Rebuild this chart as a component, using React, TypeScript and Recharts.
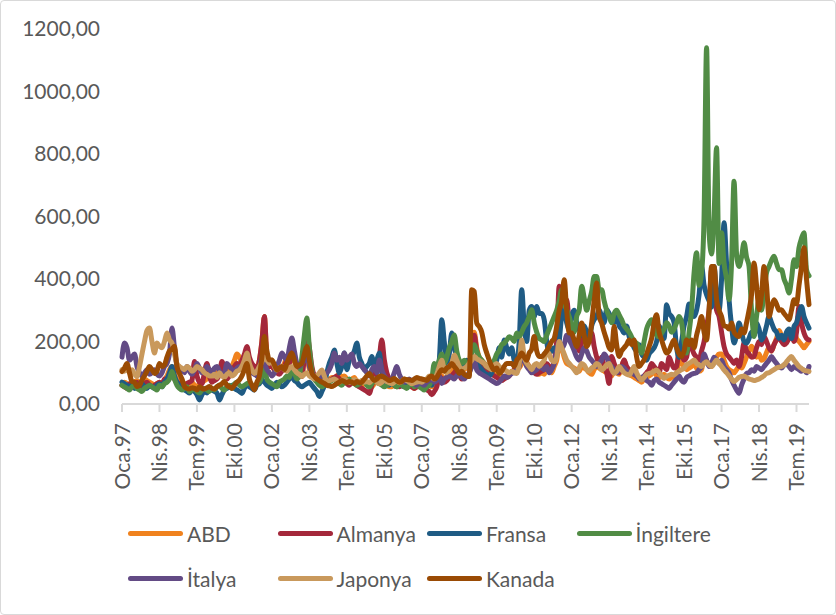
import { Line, LineChart, XAxis, YAxis } from "recharts";

const monthNames = ["Oca", "Şub", "Mar", "Nis", "May", "Haz", "Tem", "Ağu", "Eyl", "Eki", "Kas", "Ara"];
const years = [97, 98, 99, 0, 1, 2, 3, 4, 5, 6, 7, 8, 9, 10, 11, 12, 13, 14, 15, 16, 17, 18, 19];
const categories = years.flatMap((y) => monthNames.map((m) => `${m}.${String(y).padStart(2, "0")}`));

const yTicks = [0, 200, 400, 600, 800, 1000, 1200];

// one row per year, Jan..Dec, 1997-2019
const abd = [
  60, 70, 65, 55, 60, 70, 75, 65, 70, 80, 75, 70,
  65, 60, 65, 70, 60, 75, 90, 110, 120, 95, 80, 75,
  70, 65, 60, 65, 70, 60, 55, 65, 70, 75, 80, 85,
  90, 100, 95, 110, 105, 95, 100, 110, 120, 140, 160, 150,
  130, 120, 140, 125, 110, 120, 115, 140, 200, 280, 150, 130,
  120, 110, 100, 105, 115, 130, 150, 140, 160, 135, 120, 110,
  125, 140, 150, 110, 95, 90, 85, 80, 75, 70, 75, 80,
  85, 80, 90, 95, 85, 90, 80, 75, 80, 85, 70, 65,
  60, 65, 70, 60, 55, 65, 70, 75, 80, 65, 60, 55,
  55, 60, 55, 60, 65, 70, 75, 60, 55, 50, 55, 60,
  55, 60, 65, 60, 55, 60, 70, 95, 90, 80, 85, 100,
  110, 120, 140, 130, 115, 110, 120, 125, 200, 230, 180, 150,
  140, 130, 125, 120, 110, 105, 100, 95, 90, 85, 90, 95,
  100, 105, 110, 115, 130, 150, 135, 120, 115, 105, 100, 95,
  100, 95, 110, 105, 100, 120, 140, 190, 180, 150, 130, 125,
  120, 115, 110, 105, 120, 115, 110, 100, 95, 110, 120, 115,
  110, 105, 100, 95, 90, 110, 100, 95, 120, 140, 105, 95,
  90, 85, 80, 75, 70, 80, 85, 90, 95, 110, 90, 85,
  90, 95, 85, 80, 85, 90, 95, 140, 130, 120, 110, 115,
  120, 130, 115, 105, 110, 150, 140, 125, 120, 135, 150, 160,
  160, 140, 120, 110, 105, 100, 110, 120, 115, 130, 150, 170,
  185, 170, 150, 160, 140, 145, 165, 180, 170, 190, 210, 235,
  220, 210, 200, 215, 225, 230, 210, 200, 190, 180, 190, 200,
];

const almanya = [
  60, 55, 50, 65, 60, 55, 70, 60, 55, 65, 70, 60,
  55, 60, 65, 70, 60, 80, 75, 90, 110, 80, 70, 65,
  60, 55, 65, 70, 75, 136, 90, 70, 65, 100, 130, 90,
  70, 75, 80, 95, 136, 110, 80, 90, 100, 120, 130, 125,
  140, 160, 184, 150, 130, 120, 110, 140, 200, 280, 150, 120,
  120, 110, 100, 95, 105, 120, 140, 130, 170, 150, 120, 100,
  88, 150, 227, 180, 120, 90, 80, 70, 60, 65, 70, 75,
  80, 85, 90, 80, 75, 70, 65, 60, 70, 75, 60, 55,
  50, 45, 40, 34, 60, 90, 110, 150, 205, 141, 100, 80,
  70, 65, 60, 55, 60, 70, 65, 60, 55, 50, 55, 60,
  55, 50, 45, 40, 30, 40, 55, 90, 80, 70, 75, 85,
  90, 100, 110, 95, 80, 85, 90, 95, 180, 220, 170, 140,
  130, 120, 110, 100, 95, 90, 85, 80, 75, 80, 85, 90,
  100, 110, 120, 130, 170, 150, 130, 120, 110, 100, 95, 100,
  105, 110, 130, 120, 115, 140, 200, 377, 320, 300, 334, 260,
  200, 180, 190, 170, 200, 230, 220, 200, 227, 184, 150, 130,
  150, 120, 100, 66, 152, 130, 110, 100, 120, 141, 120, 110,
  100, 95, 90, 85, 80, 90, 100, 110, 130, 120, 110, 100,
  130, 120, 110, 150, 130, 115, 120, 170, 160, 140, 150, 195,
  180, 160, 150, 140, 170, 200, 250, 300, 430, 350, 300, 280,
  230, 184, 160, 150, 140, 130, 141, 120, 150, 195, 170, 160,
  150, 152, 180, 200, 190, 216, 200, 180, 170, 190, 205, 210,
  200, 190, 195, 210, 220, 200, 230, 312, 260, 227, 210, 205,
];

const fransa = [
  70, 65, 60, 55, 60, 50, 55, 60, 65, 55, 50, 60,
  55, 50, 60, 65, 55, 70, 80, 100, 120, 90, 70, 60,
  50, 45, 40, 35, 45, 40, 30, 13, 30, 40, 35, 50,
  45, 40, 35, 13, 30, 45, 50, 55, 60, 50, 45, 40,
  34, 50, 60, 55, 50, 45, 60, 65, 77, 70, 60, 55,
  50, 60, 70, 65, 55, 60, 70, 80, 90, 75, 70, 60,
  55, 60, 65, 70, 60, 50, 40, 24, 40, 60, 100, 130,
  150, 173, 130, 100, 120, 163, 110, 140, 150, 170, 195, 150,
  130, 110, 120, 130, 152, 120, 140, 163, 100, 80, 65, 60,
  70, 60, 55, 65, 60, 55, 70, 75, 65, 60, 80, 70,
  65, 70, 75, 80, 60, 90, 100, 140, 270, 200, 130, 160,
  227, 180, 150, 120, 110, 130, 140, 120, 130, 150, 130, 120,
  110, 100, 95, 90, 100, 120, 140, 180, 150, 205, 180, 160,
  180, 140, 130, 200, 366, 250, 200, 300, 312, 280, 312, 290,
  290, 270, 200, 163, 170, 180, 163, 200, 280, 300, 260, 240,
  280, 300, 260, 240, 220, 250, 230, 210, 250, 270, 280, 302,
  280, 260, 302, 290, 270, 260, 286, 250, 240, 227, 250, 216,
  200, 180, 170, 190, 160, 150, 140, 160, 170, 180, 200, 250,
  230, 210, 318, 290, 280, 260, 180, 150, 200, 250, 280, 320,
  300, 280, 300, 350, 440, 380, 350, 330, 310, 440, 350, 300,
  400, 580, 450, 334, 250, 195, 220, 259, 230, 200, 195, 210,
  230, 220, 259, 240, 205, 220, 250, 280, 260, 240, 230, 210,
  220, 205, 230, 240, 210, 248, 260, 290, 312, 280, 260, 243,
];

const ingiltere = [
  60, 55, 50, 45, 55, 60, 50, 45, 40, 50, 55, 60,
  55, 50, 45, 60, 55, 65, 70, 80, 104, 80, 60, 50,
  45, 50, 55, 40, 45, 50, 40, 35, 45, 50, 45, 40,
  50, 45, 55, 60, 50, 45, 55, 60, 50, 65, 70, 60,
  55, 60, 65, 70, 60, 55, 65, 70, 90, 120, 80, 70,
  65, 60, 55, 70, 75, 80, 90, 85, 110, 100, 80, 90,
  150, 220, 275, 180, 110, 80, 70, 60, 55, 60, 65, 70,
  75, 80, 70, 65, 60, 70, 75, 80, 70, 65, 60, 65,
  70, 75, 60, 55, 65, 80, 70, 65, 60, 55, 60, 65,
  70, 60, 55, 65, 60, 55, 50, 60, 65, 55, 60, 55,
  50, 45, 55, 60, 80, 130, 120, 140, 160, 130, 150, 180,
  200, 221, 170, 140, 130, 140, 130, 125, 160, 190, 170, 150,
  140, 130, 120, 115, 130, 140, 160, 170, 190, 195, 205, 215,
  210, 200, 227, 215, 230, 248, 260, 280, 302, 260, 230, 210,
  205, 200, 220, 240, 260, 280, 300, 330, 366, 320, 302, 280,
  250, 230, 280, 300, 377, 340, 300, 330, 360, 408, 408, 366,
  366, 330, 300, 280, 260, 290, 300, 285, 270, 250, 240, 230,
  215, 200, 195, 180, 163, 200, 240, 260, 270, 240, 220, 215,
  227, 240, 260, 250, 230, 240, 260, 280, 260, 200, 163, 230,
  300, 420, 484, 380, 420, 600, 1140, 550, 480, 600, 820, 450,
  548, 450, 400, 334, 450, 713, 480, 440, 470, 516, 470, 440,
  300, 216, 280, 334, 300, 360, 420, 440, 460, 473, 450, 430,
  430, 400, 380, 355, 400, 462, 440, 500, 530, 548, 430, 410,
];

const italya = [
  150, 195, 180, 140, 150, 160, 120, 100, 90, 100, 110, 95,
  100, 110, 95, 90, 100, 120, 130, 160, 243, 180, 120, 100,
  110, 100, 120, 105, 95, 110, 130, 115, 100, 105, 120, 110,
  100, 115, 120, 105, 95, 100, 130, 120, 110, 100, 115, 120,
  110, 120, 141, 110, 100, 95, 90, 110, 150, 130, 110, 100,
  90, 100, 120, 140, 163, 150, 140, 180, 211, 170, 130, 120,
  130, 140, 160, 120, 100, 90, 85, 80, 90, 95, 100, 110,
  130, 163, 140, 150, 130, 163, 140, 150, 160, 130, 120, 130,
  120, 110, 100, 90, 110, 120, 100, 141, 110, 90, 80, 75,
  80, 100, 120, 95, 80, 70, 75, 80, 70, 65, 60, 70,
  65, 60, 70, 75, 80, 70, 75, 90, 66, 80, 85, 90,
  85, 80, 90, 95, 85, 80, 90, 100, 120, 140, 109, 100,
  95, 90, 85, 80, 75, 70, 66, 70, 80, 90, 85, 90,
  98, 100, 110, 120, 160, 140, 120, 110, 100, 105, 110, 120,
  115, 110, 120, 100, 110, 130, 170, 200, 180, 190, 220, 205,
  190, 170, 150, 140, 160, 180, 170, 150, 140, 130, 120, 130,
  140, 160, 150, 130, 120, 110, 100, 110, 120, 115, 105, 100,
  100, 95, 90, 80, 85, 90, 75, 70, 60, 75, 80, 70,
  65, 60, 55, 50, 60, 70, 80, 90, 75, 70, 85, 90,
  95, 98, 100, 110, 120, 160, 140, 120, 130, 150, 140, 130,
  140, 120, 110, 100, 77, 60, 45, 34, 60, 80, 98, 100,
  110, 105, 120, 115, 110, 120, 130, 140, 152, 140, 130, 120,
  115, 125, 130, 120, 110, 120, 115, 110, 105, 109, 100, 120,
];

const japonya = [
  110, 105, 115, 100, 110, 95, 88, 120, 160, 200, 235, 243,
  200, 163, 195, 185, 180, 200, 227, 205, 195, 160, 130, 120,
  115, 110, 120, 115, 105, 110, 120, 115, 110, 100, 95, 90,
  90, 95, 85, 100, 90, 85, 95, 100, 90, 95, 105, 109,
  120, 140, 163, 130, 110, 98, 105, 120, 135, 150, 141, 130,
  141, 120, 109, 115, 120, 110, 105, 115, 120, 110, 100, 95,
  88, 95, 100, 90, 85, 80, 90, 100, 109, 90, 72, 75,
  77, 80, 75, 70, 75, 80, 75, 70, 72, 78, 75, 70,
  75, 70, 72, 68, 75, 80, 70, 65, 70, 75, 72, 68,
  65, 70, 75, 68, 72, 80, 75, 70, 65, 68, 70, 72,
  70, 75, 80, 90, 85, 80, 95, 120, 140, 110, 100, 120,
  130, 157, 140, 120, 110, 115, 120, 130, 140, 152, 145, 140,
  135, 130, 120, 115, 110, 125, 130, 120, 115, 110, 105, 100,
  105, 100, 98, 130, 205, 150, 130, 120, 110, 125, 130, 120,
  130, 140, 170, 160, 140, 135, 150, 200, 180, 160, 140, 130,
  120, 110, 100, 115, 130, 125, 110, 105, 115, 120, 130, 125,
  109, 115, 125, 130, 110, 98, 105, 120, 110, 100, 95, 93,
  105, 120, 100, 85, 77, 85, 95, 98, 100, 105, 109, 100,
  90, 82, 88, 92, 95, 93, 100, 105, 110, 115, 125, 130,
  135, 141, 130, 125, 120, 130, 135, 125, 120, 130, 141, 130,
  120, 109, 100, 90, 80, 72, 78, 85, 88, 90, 85, 80,
  78, 75, 77, 80, 85, 90, 98, 100, 105, 110, 115, 118,
  120, 125, 135, 145, 152, 140, 130, 120, 114, 108, 106, 104,
];

const kanada = [
  104, 115, 130, 100, 72, 70, 56, 60, 77, 90, 105, 120,
  110, 98, 105, 130, 120, 125, 150, 170, 175, 185, 120, 98,
  80, 56, 50, 48, 52, 50, 45, 55, 50, 48, 52, 56,
  50, 48, 55, 60, 65, 72, 60, 55, 50, 60, 70, 77,
  90, 110, 130, 80, 60, 45, 70, 90, 150, 216, 170, 141,
  141, 125, 109, 115, 120, 110, 130, 150, 163, 140, 120, 125,
  130, 160, 184, 140, 100, 88, 80, 75, 70, 66, 60, 58,
  56, 60, 65, 70, 75, 72, 68, 72, 70, 65, 72, 68,
  70, 80, 90, 98, 85, 75, 80, 88, 90, 85, 80, 75,
  78, 82, 75, 70, 72, 80, 78, 77, 75, 80, 85, 82,
  80, 78, 75, 85, 90, 80, 85, 100, 110, 105, 115, 120,
  130, 120, 110, 98, 105, 95, 90, 88, 366, 360, 259, 248,
  230, 190, 163, 140, 120, 109, 115, 98, 105, 120, 130, 130,
  130, 120, 140, 150, 163, 150, 140, 163, 175, 216, 170, 152,
  152, 160, 170, 184, 200, 210, 248, 300, 330, 398, 300, 227,
  227, 205, 184, 220, 259, 220, 184, 200, 259, 330, 387, 280,
  259, 230, 205, 180, 173, 248, 190, 152, 170, 180, 190, 205,
  190, 205, 150, 120, 130, 141, 160, 184, 210, 260, 286, 230,
  205, 180, 163, 170, 190, 205, 180, 160, 152, 170, 205, 190,
  205, 180, 220, 250, 280, 230, 205, 300, 440, 440, 334, 300,
  280, 250, 248, 240, 259, 230, 220, 216, 240, 227, 260, 300,
  350, 451, 380, 302, 350, 440, 380, 280, 310, 334, 320, 300,
  302, 290, 280, 270, 300, 334, 320, 380, 440, 500, 400, 318,
];

const series = [
  { key: "abd", name: "ABD", color: "#F0821E", values: abd },
  { key: "almanya", name: "Almanya", color: "#A4283B", values: almanya },
  { key: "fransa", name: "Fransa", color: "#1F5B84", values: fransa },
  { key: "ingiltere", name: "İngiltere", color: "#518C45", values: ingiltere },
  { key: "italya", name: "İtalya", color: "#634B85", values: italya },
  { key: "japonya", name: "Japonya", color: "#C9995C", values: japonya },
  { key: "kanada", name: "Kanada", color: "#9A4B04", values: kanada },
];

const data = categories.map((label, i) => {
  const row: Record<string, string | number> = { label };
  series.forEach((s) => (row[s.key] = s.values[i]));
  return row;
});

const FONT = "Lato, 'Liberation Sans', sans-serif";
const TEXT = "#595959";

function XTick({ x, y, payload }: any) {
  return (
    <text x={x} y={y} dy="0.36em" transform={`rotate(-90 ${x} ${y})`} textAnchor="end" fill={TEXT} fontSize={21} fontFamily={FONT}>
      {payload.value}
    </text>
  );
}

export default function App() {
  return (
    <div style={{ position: "absolute", left: 0, top: 0, width: 836, height: 615, background: "#fff", border: "1px solid #d9d9d9", boxSizing: "border-box", borderRadius: 4 }}>
      <LineChart width={834} height={613} data={data} margin={{ top: 28, right: 26, bottom: 110, left: 0 }}>
        <XAxis
          dataKey="label"
          interval={14}
          tick={<XTick />}
          tickSize={8}
          tickMargin={11}
          height={100}
          axisLine={{ stroke: "#d9d9d9", strokeWidth: 2 }}
          tickLine={{ stroke: "#d9d9d9", strokeWidth: 2 }}
        />
        <YAxis
          domain={[0, 1200]}
          ticks={yTicks}
          width={121}
          axisLine={false}
          tickLine={false}
          tickMargin={16}
          tick={{ fill: TEXT, fontSize: 21, fontFamily: FONT }}
          tickFormatter={(v: number) => v.toFixed(2).replace(".", ",")}
        />
        {series.map((s) => (
          <Line
            key={s.key}
            type="monotone"
            dataKey={s.key}
            name={s.name}
            stroke={s.color}
            strokeWidth={5}
            strokeLinejoin="round"
            strokeLinecap="round"
            dot={false}
            isAnimationActive={false}
          />
        ))}
      </LineChart>
      {series.map((s, i) => (
        <div
          key={s.key}
          style={{
            position: "absolute",
            left: 127 + (i % 4) * 149.5,
            top: i < 4 ? 518 : 563,
            height: 28,
            display: "flex",
            alignItems: "center",
            fontFamily: FONT,
            fontSize: 21,
            color: TEXT,
            whiteSpace: "nowrap",
          }}
        >
          <span style={{ display: "inline-block", width: 55, height: 5, borderRadius: 3, background: s.color, marginRight: 4 }} />
          {s.name}
        </div>
      ))}
    </div>
  );
}
